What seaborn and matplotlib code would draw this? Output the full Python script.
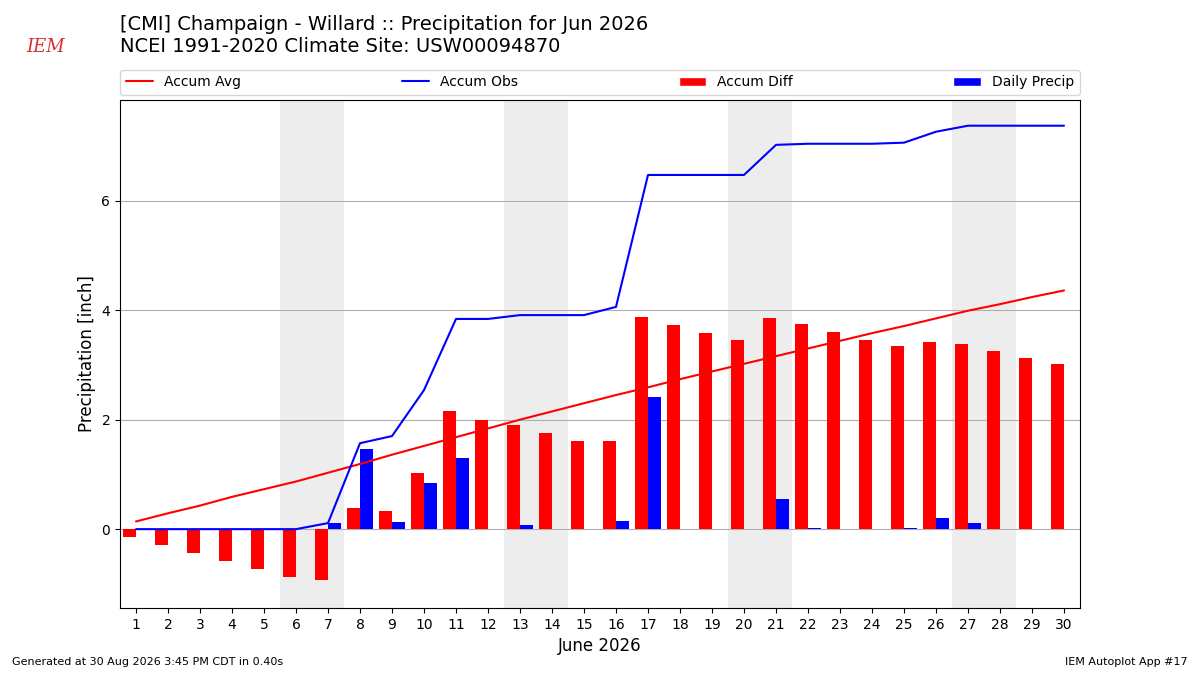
import matplotlib
matplotlib.use("Agg")

import matplotlib.pyplot as plt
import numpy as np
import pandas as pd
import seaborn as sns
from matplotlib.lines import Line2D
from matplotlib.patches import Patch

days = list(range(1, 31))
daily_precip = [0.00, 0.00, 0.00, 0.00, 0.00, 0.00, 0.11, 1.46, 0.13, 0.84,
                1.30, 0.00, 0.07, 0.00, 0.00, 0.15, 2.41, 0.00, 0.00, 0.00,
                0.55, 0.02, 0.00, 0.00, 0.02, 0.20, 0.11, 0.00, 0.00, 0.00]
accum_avg = [0.14, 0.29, 0.43, 0.59, 0.73, 0.87, 1.03, 1.19, 1.36, 1.52,
             1.68, 1.84, 2.00, 2.15, 2.30, 2.45, 2.59, 2.74, 2.88, 3.02,
             3.16, 3.30, 3.44, 3.58, 3.71, 3.85, 3.99, 4.11, 4.24, 4.36]
weekend_starts = [6, 13, 20, 27]
xtick_labels = [str(d) for d in days]

title = ("[CMI] Champaign - Willard :: Precipitation for Jun 2026\n"
         "NCEI 1991-2020 Climate Site: USW00094870")

sns.set_theme(context="notebook", style="ticks")
plt.rcParams["font.family"] = ["DejaVu Sans"]
plt.rcParams["text.color"] = "black"
plt.rcParams["axes.labelcolor"] = "black"
plt.rcParams["xtick.color"] = "black"
plt.rcParams["ytick.color"] = "black"

df = pd.DataFrame({"day": days, "precip": daily_precip, "avg": accum_avg})
df["obs"] = df["precip"].cumsum()
df["diff"] = df["obs"] - df["avg"]

bars = pd.concat([
    pd.DataFrame({"day": df["day"], "value": df["diff"], "series": "Accum Diff"}),
    pd.DataFrame({"day": df["day"], "value": df["precip"], "series": "Daily Precip"}),
])
bars = bars[bars["value"] != 0]

fig = plt.figure(figsize=(12, 6.75), dpi=100)
ax = fig.add_axes([0.1, 0.0993, 0.8, 0.7526])

for start in weekend_starts:
    ax.axvspan(start - 0.5, start + 1.5, color="#ededed", zorder=0, lw=0)

sns.barplot(data=bars, x="day", y="value", hue="series", native_scale=True,
            hue_order=["Accum Diff", "Daily Precip"],
            palette={"Accum Diff": "red", "Daily Precip": "blue"},
            width=0.8, dodge=True, gap=0, errorbar=None, legend=False, ax=ax,
            saturation=1, linewidth=0, edgecolor="none", zorder=2)
sns.lineplot(data=df, x="day", y="avg", color="red", lw=1.5, ax=ax, zorder=3)
sns.lineplot(data=df, x="day", y="obs", color="blue", lw=1.5, ax=ax, zorder=3)

ax.set_xlim(0.5, 30.5)
ax.set_ylim(-1.44, 7.84)
ax.set_xticks(days)
ax.set_xticklabels(xtick_labels, fontsize=10)
ax.set_yticks([0, 2, 4, 6])
ax.tick_params(axis="y", labelsize=10)
ax.tick_params(axis="both", direction="out", length=3.5, width=0.8, color="black")
ax.set_axisbelow(True)
ax.yaxis.grid(True, color="#b0b0b0", lw=0.8)
ax.xaxis.grid(False)
for spine in ax.spines.values():
    spine.set_visible(True)
    spine.set_color("black")
    spine.set_linewidth(0.8)

ax.set_xlabel("June 2026", fontsize=12)
ax.set_ylabel("Precipitation [inch]", fontsize=12)

handles = [
    Line2D([], [], color="red", lw=1.5),
    Line2D([], [], color="blue", lw=1.5),
    Patch(facecolor="red"),
    Patch(facecolor="blue"),
]
ax.legend(handles, ["Accum Avg", "Accum Obs", "Accum Diff", "Daily Precip"],
          loc="lower left", bbox_to_anchor=(0, 1.01, 1, 0.05), mode="expand",
          ncol=4, borderaxespad=0, fontsize=10, frameon=True, fancybox=True,
          framealpha=0.8, edgecolor="#cccccc")

fig.text(0.1, 0.978, title, fontsize=14, va="top", ha="left", linespacing=1.2)
fig.text(0.038, 0.93, "IEM", fontsize=13, color="#d83030", style="italic",
         family="DejaVu Serif", ha="center", va="center")
fig.text(0.01, 0.015, "Generated at 30 Aug 2026 3:45 PM CDT in 0.40s", fontsize=8)
fig.text(0.99, 0.015, "IEM Autoplot App #17", fontsize=8, ha="right")

fig.savefig("out.png", dpi=100)
